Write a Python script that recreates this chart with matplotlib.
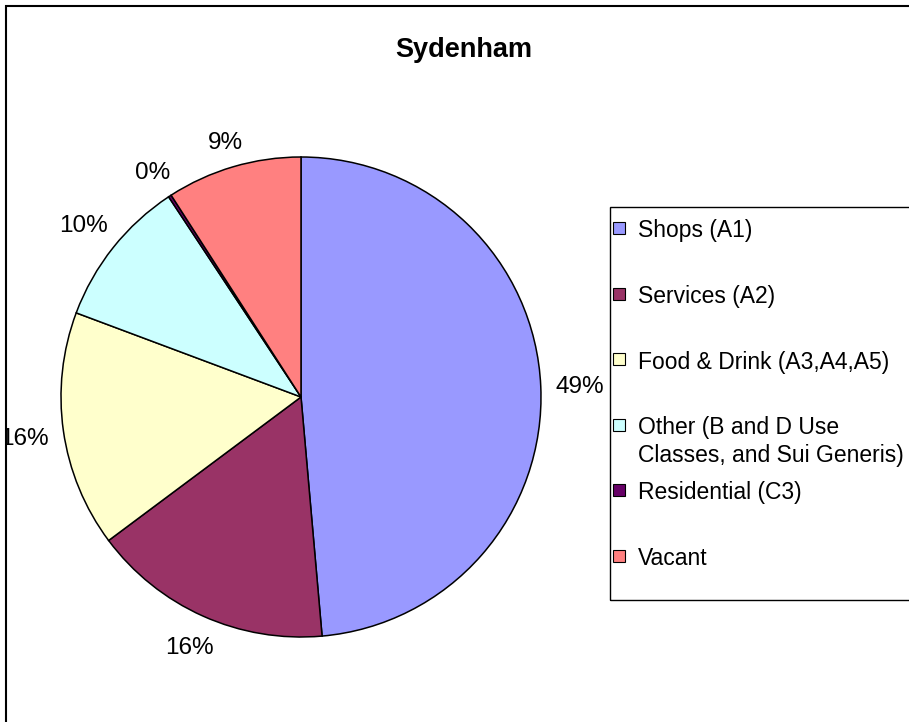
import matplotlib
matplotlib.use("Agg")
import numpy as np
import matplotlib.pyplot as plt
from matplotlib.patches import Rectangle

plt.rcParams['font.family'] = ['Liberation Sans', 'DejaVu Sans']

## Donnees
categories = ["Shops (A1)", "Services (A2)", "Food & Drink (A3,A4,A5)",
              "Other (B and D Use\nClasses, and Sui Generis)", "Residential (C3)", "Vacant"]
parts = [48.6, 16.2, 15.9, 10.0, 0.2, 9.1]
couleurs = ["#9999FF", "#993366", "#FFFFCC", "#CCFFFF", "#660066", "#FF8080"]
titre = "Sydenham"

W, H = 909, 722
fig = plt.figure(figsize=(W / 100, H / 100), dpi=100)

# cadre exterieur
fig.patches.append(Rectangle((6 / W, -0.05), 1.2, 1 - 6 / H + 0.05, transform=fig.transFigure,
                             fill=False, edgecolor="black", linewidth=1.5))

# camembert
cx, cy, r = 301, 397, 240
ax = fig.add_axes([(cx - r) / W, (H - cy - r) / H, 2 * r / W, 2 * r / H])
wedges, textes = ax.pie(parts, colors=couleurs, startangle=90, counterclock=False,
                        wedgeprops={"edgecolor": "black", "linewidth": 1.1})
ax.set_xlim(-1, 1)
ax.set_ylim(-1, 1)
ax.set_aspect("equal")
ax.axis("off")

# etiquettes a l'exterieur, facon Excel : bord de l'etiquette a ~14 px du cercle
zone = Rectangle((7 / W, 0), 1, 1, transform=fig.transFigure, visible=False)
fig.patches.append(zone)
fs = 17.5
fs_px = fs * 100 / 72
rend = fig.canvas.get_renderer()
total = sum(parts)
for w, p in zip(wedges, parts):
    ang = np.deg2rad((w.theta1 + w.theta2) / 2)
    dx, dy = np.cos(ang), np.sin(ang)
    t = ax.text(0, 0, "%d%%" % round(100 * p / total), fontsize=fs, ha="center", va="baseline",
                clip_on=True)
    t.set_clip_path(zone)
    hw = t.get_window_extent(rend).width / 2
    hh = 0.36 * fs_px
    d = r + 14 + abs(dx) * hw + abs(dy) * hh
    t.set_position((d * dx / r, (d * dy - hh) / r))

fig.text(464 / W, 1 - 57 / H, titre, ha="center", va="baseline", fontsize=19.5, fontweight="bold")

# legende (cases reparties regulierement, comme dans Excel)
fig.patches.append(Rectangle((610 / W, 1 - 600 / H), 0.5, (600 - 207) / H, transform=fig.transFigure,
                             fill=False, edgecolor="black", linewidth=1.0))
y0, pas = 228, 65.5
for i, (lab, c) in enumerate(zip(categories, couleurs)):
    yc = y0 + i * pas
    fig.patches.append(Rectangle((613 / W, 1 - (yc + 6) / H), 12 / W, 12 / H, transform=fig.transFigure,
                                 facecolor=c, edgecolor="black", linewidth=0.8))
    fig.text(638 / W, 1 - (yc - 8.5) / H, lab, ha="left", va="top", fontsize=16.5, linespacing=1.3)

plt.savefig("out.png", dpi=100)
